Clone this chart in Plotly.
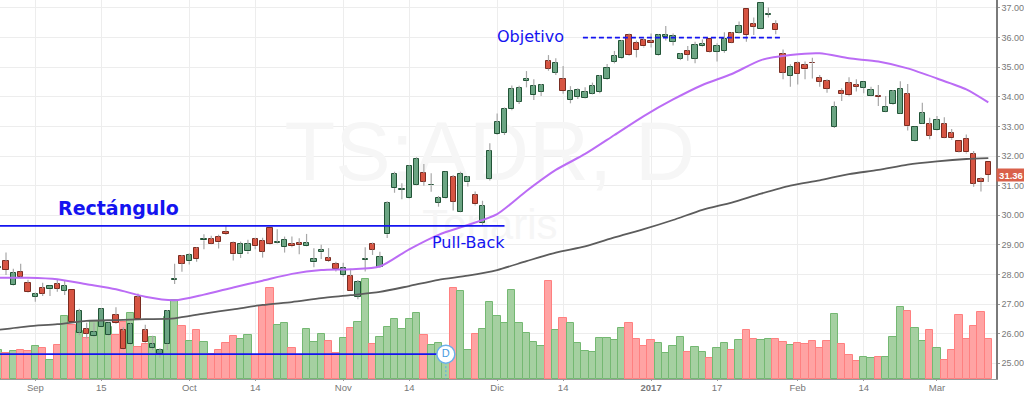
import plotly.graph_objects as go

opens = [28.22,28.46,27.63,28.10,27.72,27.25,27.53,27.50,27.67,27.45,27.47,26.04,26.17,25.92,26.23,25.95,26.63,26.11,25.65,27.23,26.11,25.52,25.31,25.66,27.82,28.61,28.45,28.88,29.16,29.20,29.28,29.45,29.08,28.68,28.78,29.20,29.14,29.56,29.07,28.93,29.02,29.05,28.95,28.41,28.75,28.55,28.36,
27.98,27.94,27.25,28.50,29.02,28.25,29.36,30.92,30.87,30.57,31.03,31.43,31.01,30.42,30.57,31.28,30.12,31.11,30.69,29.75,31.23,
32.74,32.79,33.58,33.84,34.54,34.06,34.17,35.20,34.82,34.61,33.90,34.00,33.97,34.11,34.17,34.59,35.19,35.31,36.10,35.83,35.91,35.87,35.40,36.03,35.86,35.29,35.56,35.29,35.70,35.94,35.52,35.56,36.14,36.17,36.97,36.46,36.30,36.76,36.45,
35.45,34.71,35.14,35.07,35.14,34.65,34.53,32.99,34.21,34.46,34.40,34.31,34.04,34.03,33.50,33.75,33.43,34.09,32.50,33.09,33.07,32.88,33.07,32.77,32.50,32.59,32.06,31.21,31.81]
highs = [28.32,28.74,28.19,28.36,27.82,27.39,27.72,27.62,27.84,27.79,27.47,26.84,26.37,26.37,26.86,26.37,26.89,26.22,26.35,27.36,26.30,25.93,25.51,26.80,28.36,28.66,28.72,28.91,29.36,29.31,29.34,29.64,29.11,29.11,29.17,29.24,29.24,29.56,29.53,29.28,29.28,29.22,29.37,28.89,29.00,28.89,28.43,
28.40,28.15,27.81,28.92,29.08,28.77,30.47,31.47,31.08,31.70,31.96,31.73,31.42,30.65,31.47,31.36,31.47,31.33,30.80,30.49,32.43,
33.44,33.64,34.38,34.37,34.87,34.59,34.43,35.41,35.30,35.04,34.36,34.29,34.32,34.48,34.74,35.11,35.55,35.92,36.14,35.90,35.97,36.14,36.11,36.39,36.14,35.47,35.72,35.86,35.94,35.94,35.81,36.18,36.19,36.54,36.97,36.68,37.18,37.02,36.59,
35.60,35.10,35.19,35.19,35.32,34.74,34.59,33.84,34.29,34.66,34.59,34.51,34.34,34.40,34.03,34.23,34.53,34.43,32.99,33.80,33.29,33.35,33.31,32.91,32.50,32.73,32.17,31.28,31.81]
lows = [28.15,27.98,27.61,27.87,27.39,27.08,27.27,27.27,27.42,27.31,26.41,25.95,25.84,25.89,26.22,25.92,26.33,25.45,25.63,26.46,25.69,25.45,25.19,25.45,27.68,28.09,28.34,28.43,28.85,29.02,28.88,29.33,28.47,28.56,28.69,28.85,28.57,29.00,29.05,28.74,28.92,28.68,28.94,28.24,28.52,28.42,28.10,
27.93,27.45,27.16,28.10,28.66,28.23,29.23,30.76,30.54,30.55,31.01,31.00,30.79,30.29,30.55,30.16,30.10,30.97,30.33,29.68,31.17,
32.71,32.71,33.55,33.76,34.32,33.89,34.03,34.88,34.74,34.10,33.78,33.93,33.94,34.08,34.12,34.57,35.13,35.29,35.39,35.33,35.67,35.67,35.38,35.90,35.73,35.24,35.22,35.13,35.68,35.50,35.19,35.49,35.81,36.14,35.86,36.09,36.28,36.68,36.11,
34.59,34.34,34.42,34.59,34.62,34.34,34.14,32.95,33.86,34.02,34.18,34.12,34.02,33.69,33.48,33.72,33.42,32.86,32.48,33.08,32.57,32.86,32.60,32.55,32.12,32.09,30.96,30.80,31.12]
closes = [28.24,28.15,28.04,27.93,27.41,27.34,27.35,27.60,27.52,27.60,26.41,26.75,26.00,26.07,26.82,26.35,26.35,25.47,26.32,26.49,25.71,25.66,25.44,26.77,27.84,28.37,28.66,28.52,29.20,29.04,29.09,29.36,28.68,29.04,29.02,28.95,28.77,29.02,29.09,29.18,28.95,28.99,29.05,28.51,28.82,28.45,28.18,
28.23,27.45,27.74,28.52,28.84,28.59,30.40,31.38,30.89,31.67,31.91,31.14,31.03,30.58,31.45,30.46,31.40,31.28,30.37,30.31,32.17,
33.14,33.59,34.25,34.29,34.59,34.36,34.39,34.95,35.13,34.20,34.21,34.23,34.15,34.36,34.69,34.99,35.37,35.87,35.41,35.58,35.70,35.81,36.08,36.08,36.05,35.43,35.42,35.75,35.77,35.52,35.72,35.94,35.83,36.40,36.09,36.37,37.16,36.79,36.25,
34.82,35.02,34.78,34.93,35.13,34.51,34.27,33.66,34.11,34.05,34.34,34.49,34.23,33.99,33.67,34.18,34.25,33.01,32.98,33.44,32.69,33.21,32.62,32.60,32.15,32.12,31.07,31.13,31.36]
volumes = [87,77,84,86,83,98,92,56,102,190,161,145,122,175,172,157,131,171,197,96,106,125,77,185,237,159,113,146,110,74,87,107,129,120,131,72,220,274,161,169,93,72,149,111,135,114,79,
122,154,170,299,105,125,156,180,149,180,197,132,102,107,97,272,265,86,135,149,231,188,167,267,167,137,110,99,294,147,183,167,108,84,82,122,122,118,153,167,119,99,116,109,78,99,126,
81,95,81,63,92,109,86,117,146,121,118,120,120,110,101,109,105,113,92,113,195,105,72,54,65,63,65,65,126,215,203,152,113,146,92,56,86,191,120,159,202,120]

ma_days = [0,4,8,12,16,20,24,28,32,36,40,44,48,52,56,60,64,68,72,76,80,84,88,92,96,100,104,108,112,116,120,124,128,132,135]
ma_fast = [27.89,27.89,27.84,27.67,27.50,27.25,27.13,27.32,27.56,27.79,28.02,28.15,28.18,28.27,28.85,29.34,29.67,30.04,30.82,31.53,32.07,32.71,33.35,33.91,34.40,34.77,35.24,35.41,35.47,35.30,35.19,34.96,34.62,34.25,33.81]
ma_slow = [26.13,26.25,26.32,26.43,26.46,26.49,26.52,26.68,26.82,26.97,27.07,27.20,27.30,27.41,27.61,27.82,27.96,28.15,28.45,28.74,28.95,29.25,29.53,29.84,30.18,30.43,30.73,31.00,31.18,31.39,31.53,31.71,31.82,31.90,31.93]

tick_days = [5,14,26,35,47,56,68,77,89,98,109,118,128]
tick_labels = ["Sep","15","Oct","14","Nov","14","Dic","14","<b>2017</b>","17","Feb","14","Mar"]
price_ticks = [25,26,27,28,29,30,31,32,33,34,35,36,37]

days = list(range(len(closes)))
is_up = [c >= o for o, c in zip(opens, closes)]

GREEN_F, GREEN_L = "#6ba583", "#225437"
RED_F, RED_L = "#d75442", "#7a2d22"
BLUE = "#1414f0"

fig = go.Figure()

# Volume, on the hidden lower axis
fig.add_trace(go.Bar(
    x=days, y=volumes, width=1.0, yaxis="y", hoverinfo="skip",
    marker=dict(color=["#a5d0a1" if u else "#ffa3a3" for u in is_up],
                line=dict(color=["#74b872" if u else "#ff8080" for u in is_up], width=1)),
))

# Watermarks, under the price traces
fig.add_trace(go.Scatter(x=[67.0], y=[660], yaxis="y", mode="text", text=["TS:ADR, D"], hoverinfo="skip",
                         textfont=dict(family="Liberation Sans", size=83, color="#f6f6f6")))
fig.add_trace(go.Scatter(x=[67.0], y=[452], yaxis="y", mode="text", text=["Tenaris"], hoverinfo="skip",
                         textfont=dict(family="Liberation Sans", size=42, color="#f6f6f6")))

# Candle bodies
fig.add_trace(go.Bar(
    x=days, y=[abs(c - o) for o, c in zip(opens, closes)],
    base=[min(o, c) for o, c in zip(opens, closes)],
    width=0.72, yaxis="y2", hoverinfo="skip",
    marker=dict(color=[GREEN_F if u else RED_F for u in is_up],
                line=dict(color=[GREEN_L if u else RED_L for u in is_up], width=1)),
))

# Candle wicks, upper and lower part, stopping at the body
wx, wy = [], []
for d, o, h, l, c in zip(days, opens, highs, lows, closes):
    wx += [d, d, None, d, d, None]
    wy += [h, max(o, c), None, min(o, c), l, None]
fig.add_trace(go.Scatter(x=wx, y=wy, yaxis="y2", mode="lines", hoverinfo="skip",
                         line=dict(color="#a8a8a8", width=1.2)))

# Moving averages
fig.add_trace(go.Scatter(x=ma_days, y=ma_fast, yaxis="y2", mode="lines", hoverinfo="skip",
                         line=dict(color="#bb6cf5", width=2, shape="spline", smoothing=0.7)))
fig.add_trace(go.Scatter(x=ma_days, y=ma_slow, yaxis="y2", mode="lines", hoverinfo="skip",
                         line=dict(color="#5c5c5c", width=1.8, shape="spline", smoothing=0.7)))

# Drawn levels
fig.add_trace(go.Scatter(x=[0, 69], y=[29.64, 29.64], yaxis="y2", mode="lines", hoverinfo="skip",
                         line=dict(color=BLUE, width=1.7)))
fig.add_trace(go.Scatter(x=[0, 61], y=[25.31, 25.31], yaxis="y2", mode="lines", hoverinfo="skip",
                         line=dict(color=BLUE, width=1.7)))
fig.add_trace(go.Scatter(x=[79.7, 106.6], y=[36.0, 36.0], yaxis="y2", mode="lines", hoverinfo="skip",
                         line=dict(color=BLUE, width=1.7, dash="5px,3px")))

# Dividend flag
fig.add_trace(go.Scatter(x=[61, 61], y=[25.31, 24.47], yaxis="y2", mode="lines", hoverinfo="skip",
                         line=dict(color="#5aa9e6", width=1, dash="2px,2px")))
fig.add_trace(go.Scatter(x=[61], y=[25.31], yaxis="y2", mode="markers+text", text=["D"],
                         textposition="middle center", hoverinfo="skip",
                         textfont=dict(family="Liberation Sans", size=11, color="#4a9be0"),
                         marker=dict(size=18, color="white", line=dict(color="#6ab0ea", width=1.5))))

annotations = [
    dict(x=16.3, y=30.25, text="<b>Rectángulo</b>", font=dict(family="DejaVu Sans", size=19, color=BLUE)),
    dict(x=72.5, y=36.05, text="Objetivo", font=dict(family="DejaVu Sans", size=16, color=BLUE)),
    dict(x=64.1, y=29.07, text="Pull-Back", font=dict(family="DejaVu Sans", size=16, color=BLUE)),
]
for a in annotations:
    a.update(xref="x", yref="y2", showarrow=False)
annotations.append(dict(x=1, xref="paper", xanchor="left", y=closes[-1], yref="y2", showarrow=False,
                        text="<b>%.2f</b>" % closes[-1], width=28, height=12, borderpad=0,
                        bgcolor="#d9604a", font=dict(family="Liberation Sans", size=9.5, color="white")))

x_font = dict(family="Liberation Sans", size=9.5, color="#787878")
y_font = dict(family="Liberation Sans", size=9, color="#787878")
fig.update_layout(
    width=1024, height=394, autosize=False,
    margin=dict(l=0, r=28, t=0, b=15),
    paper_bgcolor="white", plot_bgcolor="white",
    showlegend=False, barmode="overlay", bargap=0,
    annotations=annotations,
    xaxis=dict(range=[0.18, 136.05], tickvals=tick_days, ticktext=tick_labels, tickfont=x_font,
               automargin=False, ticklabelstandoff=-1,
               showgrid=True, gridcolor="#ededed", gridwidth=1, zeroline=False,
               showline=True, linecolor="#9a9a9a", linewidth=1,
               ticks="outside", ticklen=1, tickcolor="#9a9a9a"),
    yaxis=dict(range=[0, 1137], visible=False, fixedrange=True, automargin=False),
    yaxis2=dict(range=[24.47, 37.27], overlaying="y", side="right", anchor="x", automargin=False,
                tickvals=price_ticks, ticktext=["%.2f" % p for p in price_ticks], tickfont=y_font,
                showgrid=True, gridcolor="#ededed", gridwidth=1, zeroline=False,
                showline=True, linecolor="#7a7a7a", linewidth=1.5,
                ticks="outside", ticklen=2, tickcolor="#9a9a9a"),
)

fig.write_html("out.html", config=dict(displayModeBar=False),
               post_script="document.body.style.margin='0';document.body.style.overflow='hidden';")
